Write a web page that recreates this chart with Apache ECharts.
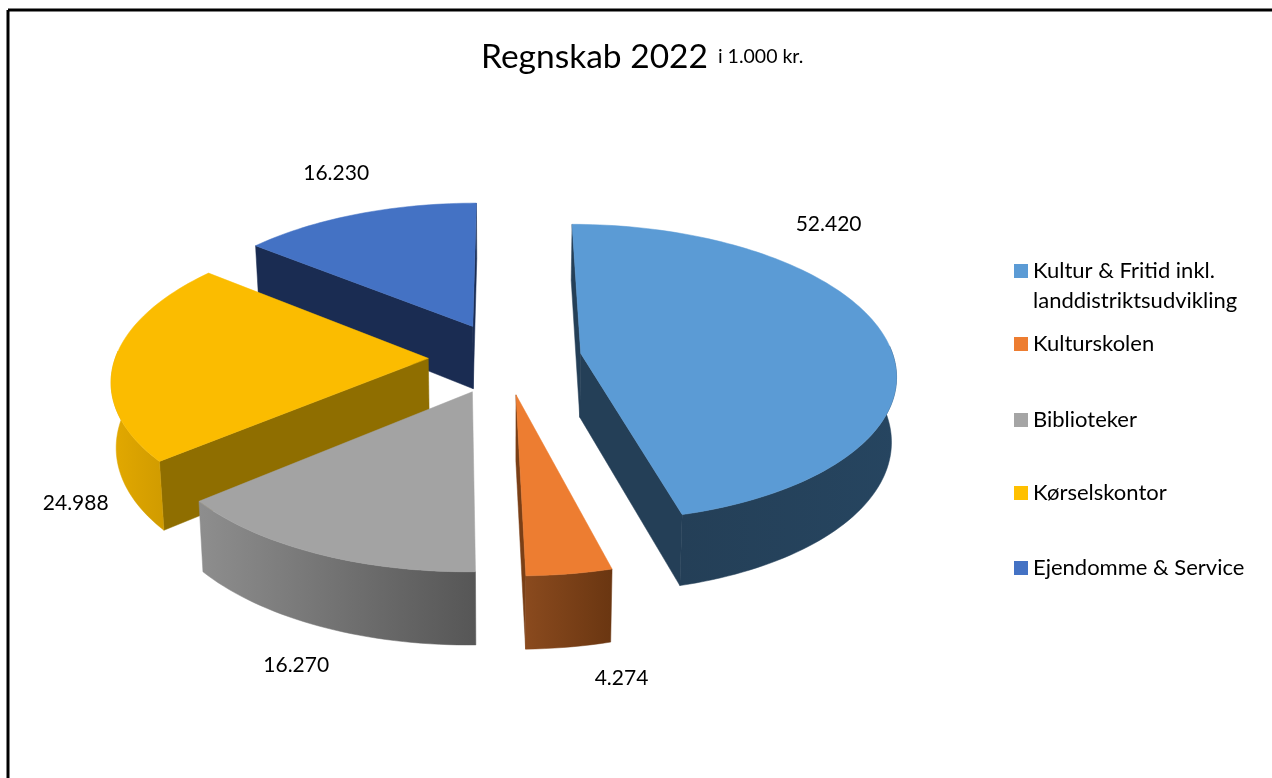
<!DOCTYPE html>
<html><head><meta charset="utf-8">
<style>html,body{margin:0;padding:0;background:#fff}#c{width:1272px;height:778px}</style>
<script src="https://cdn.jsdelivr.net/npm/echarts@6/dist/echarts.min.js"></script>
</head><body><div id="c"></div>
<script>
const categories = ['Kultur & Fritid inkl.\nlanddistriktsudvikling','Kulturskolen','Biblioteker','Kørselskontor','Ejendomme & Service'];
const values = [52420,4274,16270,24988,16230];
const colors = ['#5B9BD5','#ED7D31','#A5A5A5','#FFC000','#4472C4'];
const topColors = ['#5B9BD5','#ED7D31','#A3A3A3','#FBBC00','#4472C4'];
const faceColors = ['#243F57','#7A3F16','#6A6A6A','#8F6E00','#1A2C52'];
const wallColors = [['#243F57','#264560'],['#8A4A1E','#6A3611'],['#8E8E8E','#565656'],['#E3A900','#D09B00'],['#1A2C52','#1A2C52']];
const labelOffsets = [[-55,-111],[52,104],[-20,112],[-39,143],[-22,-41]];
const legendTops = [252,329,405,478,553];
const drawOrder = [4,3,0,2,1];

const CX=505, CY=358, RX=313, RY=147, K=0.13, EXPLODE=0.245;
const total = values.reduce((a,b)=>a+b,0);
const fmt = v => String(v).replace(/\B(?=(\d{3})+$)/g,'.');
function angles(i){
  let s=0; for(let j=0;j<i;j++) s+=values[j];
  const a0=s/total*Math.PI*2, a1=(s+values[i])/total*Math.PI*2;
  return [a0,a1,(a0+a1)/2];
}
function proj(i,r,a){
  const m=angles(i)[2];
  const u=r*Math.sin(a)+EXPLODE*Math.sin(m), v=r*Math.cos(a)+EXPLODE*Math.cos(m);
  const s=1/(1+K*v);
  return {x:CX+RX*u*s, y:CY-RY*v*s, v};
}
const upper = p=>[p.x,p.y];
const lower = p=>[CX+(p.x-CX)*0.987, p.y+64-7.5*p.v];
function renderSlice(i){
  const [a0,a1,m]=angles(i);
  const n=Math.max(8,Math.round((a1-a0)*40));
  const rim=[]; for(let t=0;t<=n;t++) rim.push(proj(i,1,a0+(a1-a0)*t/n));
  const apex=proj(i,0,0), mid=proj(i,1,m);
  const kids=[];
  const poly=(pts,fill)=>kids.push({type:'polygon',shape:{points:pts},style:{fill,stroke:fill,lineWidth:0.5}});
  [rim[0],rim[n]].forEach(p=>{
    const ex=p.x-apex.x, ey=p.y-apex.y;
    const side=ex*(mid.y-apex.y)-ey*(mid.x-apex.x);
    if(side*ex<0) poly([upper(apex),upper(p),lower(p),lower(apex)],faceColors[i]);
  });
  const lo=Math.max(a0,Math.PI/2-0.05), hi=Math.min(a1,Math.PI*1.5+0.05);
  if(hi>lo){
    const wn=Math.max(8,Math.round((hi-lo)*40)), wall=[];
    for(let t=0;t<=wn;t++) wall.push(proj(i,1,lo+(hi-lo)*t/wn));
    const grad=new echarts.graphic.LinearGradient(0,0,1,0,[{offset:0,color:wallColors[i][0]},{offset:1,color:wallColors[i][1]}]);
    poly(wall.map(upper).concat(wall.map(lower).reverse()),grad);
  }
  poly([upper(apex)].concat(rim.map(upper)),topColors[i]);
  kids.push({type:'text',style:{text:fmt(values[i]),x:mid.x+labelOffsets[i][0],y:mid.y+labelOffsets[i][1],
    align:'center',verticalAlign:'middle',font:'21px Lato, Carlito, sans-serif',fill:'#000'}});
  return {type:'group',children:kids};
}
const series = drawOrder.map(i=>({
  type:'custom',name:categories[i],coordinateSystem:'none',silent:true,z:2,
  itemStyle:{color:colors[i]},
  data:[values[i]],
  renderItem:()=>renderSlice(i)
}));
const legends = categories.map((c,i)=>({
  orient:'vertical',left:1014,top:legendTops[i]-(i===0?26:0),
  data:[{name:c,icon:'rect',itemStyle:{color:colors[i]}}],
  itemWidth:14,itemHeight:14,itemGap:0,selectedMode:false,padding:0,
  formatter:n=>n.indexOf('\n')>=0?'\n'+n:n,
  textStyle:{fontFamily:'Lato, Carlito, sans-serif',fontSize:22,color:'#000',lineHeight:30}
}));
const chart=echarts.init(document.getElementById('c'),null,{renderer:'canvas'});
chart.setOption({
  animation:false,backgroundColor:'#fff',
  title:{text:'{a|Regnskab 2022} {b|i 1.000 kr.}',left:481,top:40,padding:0,
    textStyle:{fontWeight:'normal',rich:{a:{fontFamily:'Lato, Carlito, sans-serif',fontWeight:'normal',fontSize:33.5,color:'#000'},b:{fontFamily:'Lato, Carlito, sans-serif',fontWeight:'normal',fontSize:19.5,color:'#000',padding:[0,0,0,5]}}}},
  legend:legends,
  graphic:[
    {type:'line',shape:{x1:8,y1:10,x2:1272,y2:10},style:{stroke:'#000',lineWidth:3},z:10},
    {type:'line',shape:{x1:8,y1:10,x2:8,y2:778},style:{stroke:'#000',lineWidth:3},z:10}
  ],
  series
});
</script></body></html>
